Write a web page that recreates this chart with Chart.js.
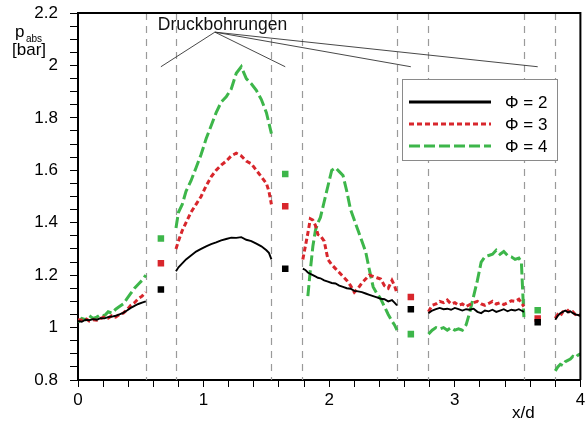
<!DOCTYPE html>
<html lang="de">
<head>
  <meta charset="UTF-8">
  <title>Druckverlauf p_abs über x/d</title>
  <script src="https://cdn.jsdelivr.net/npm/chart.js"></script>
  <style>
    html, body { margin: 0; padding: 0; background: #fff; }
    #wrap { width: 585px; height: 421px; }
  </style>
</head>
<body>
<div id="wrap"><canvas id="pressureChart" width="585" height="421"></canvas></div>

<script>
  // x/d positions, segments separated by the bore positions (y = null there)
  const xPos = [
    0, 0.03, 0.06, 0.09, 0.12, 0.15, 0.18, 0.21, 0.24, 0.27, 0.30, 0.33, 0.36, 0.39, 0.42, 0.45, 0.48, 0.51, 0.54,
    0.66,
    0.78, 0.80, 0.83, 0.86, 0.90, 0.94, 0.98, 1.02, 1.06, 1.10, 1.14, 1.18, 1.22, 1.26, 1.30, 1.34, 1.38, 1.42, 1.46, 1.50, 1.52, 1.54,
    1.65,
    1.79, 1.81, 1.83, 1.85, 1.87, 1.89, 1.91, 1.93, 1.96, 1.99, 2.02, 2.05, 2.08, 2.11, 2.14, 2.17, 2.20, 2.23, 2.26, 2.29, 2.32, 2.35, 2.38, 2.41, 2.44, 2.47, 2.50, 2.52, 2.54,
    2.65,
    2.79, 2.82, 2.85, 2.88, 2.91, 2.94, 2.97, 3.00, 3.03, 3.06, 3.09, 3.12, 3.15, 3.18, 3.21, 3.24, 3.27, 3.30, 3.33, 3.36, 3.39, 3.42, 3.45, 3.48, 3.51, 3.53, 3.55,
    3.66,
    3.80, 3.82, 3.84, 3.86, 3.88, 3.90, 3.92, 3.94, 3.96, 3.98, 4.00
  ];

  const pPhi2 = [
    1.025, 1.022, 1.030, 1.028, 1.032, 1.030, 1.036, 1.035, 1.040, 1.042, 1.045, 1.050, 1.056, 1.065, 1.075, 1.083, 1.090, 1.095, 1.100,
    null,
    1.215, 1.230, 1.245, 1.260, 1.275, 1.290, 1.300, 1.310, 1.318, 1.325, 1.333, 1.338, 1.343, 1.342, 1.345, 1.335, 1.330, 1.320, 1.310, 1.295, 1.285, 1.260,
    null,
    1.225, 1.220, 1.210, 1.205, 1.200, 1.195, 1.190, 1.188, 1.180, 1.175, 1.170, 1.168, 1.160, 1.155, 1.150, 1.148, 1.140, 1.138, 1.135, 1.130, 1.125, 1.120, 1.115, 1.110, 1.108, 1.100, 1.105, 1.095, 1.085,
    null,
    1.055, 1.065, 1.070, 1.075, 1.070, 1.072, 1.068, 1.075, 1.070, 1.065, 1.070, 1.068, 1.072, 1.060, 1.055, 1.065, 1.062, 1.068, 1.060, 1.065, 1.070, 1.062, 1.068, 1.065, 1.070, 1.065, 1.060,
    null,
    1.030, 1.045, 1.055, 1.060, 1.065, 1.058, 1.062, 1.055, 1.050, 1.048, 1.045
  ];

  const pPhi3 = [
    1.030, 1.028, 1.035, 1.025, 1.030, 1.028, 1.035, 1.040, 1.036, 1.045, 1.040, 1.050, 1.055, 1.068, 1.085, 1.095, 1.110, 1.120, 1.135,
    null,
    1.300, 1.330, 1.370, 1.400, 1.440, 1.470, 1.500, 1.540, 1.575, 1.600, 1.620, 1.635, 1.655, 1.665, 1.655, 1.635, 1.625, 1.600, 1.575, 1.550, 1.520, 1.470,
    null,
    1.260, 1.310, 1.360, 1.415, 1.410, 1.390, 1.355, 1.350, 1.330, 1.260, 1.240, 1.225, 1.210, 1.195, 1.180, 1.160, 1.135, 1.150, 1.170, 1.185, 1.200, 1.195, 1.190, 1.185, 1.160, 1.150, 1.180, 1.160, 1.130,
    null,
    1.060, 1.085, 1.090, 1.100, 1.095, 1.105, 1.090, 1.095, 1.085, 1.090, 1.080, 1.088, 1.095, 1.100, 1.090, 1.085, 1.092, 1.100, 1.090, 1.095, 1.088, 1.095, 1.102, 1.100, 1.108, 1.095, 1.080,
    null,
    1.035, 1.050, 1.045, 1.060, 1.058, 1.065, 1.055, 1.060, 1.050, 1.055, 1.045
  ];

  const pPhi4 = [
    1.020, 1.035, 1.030, 1.045, 1.035, 1.040, 1.050, 1.045, 1.060, 1.055, 1.070, 1.080, 1.090, 1.110, 1.130, 1.150, 1.165, 1.180, 1.200,
    null,
    1.380, 1.440, 1.470, 1.520, 1.560, 1.610, 1.660, 1.720, 1.770, 1.820, 1.860, 1.880, 1.910, 1.970, 1.995, 1.950, 1.930, 1.905, 1.870, 1.820, 1.780, 1.740,
    null,
    null, null, 1.120, 1.220, 1.310, 1.370, 1.400, 1.420, 1.480, 1.540, 1.600, 1.610, 1.595, 1.580, 1.520, 1.450, 1.410, 1.370, 1.330, 1.290, 1.220, 1.155, 1.130, 1.110, 1.080, 1.050, 1.025, 1.010, 0.990,
    null,
    0.975, 0.990, 1.000, 0.995, 1.000, 0.990, 1.000, 0.990, 0.995, 0.990, 1.010, 1.060, 1.120, 1.180, 1.250, 1.270, 1.275, 1.280, 1.295, 1.280, 1.290, 1.275, 1.270, 1.260, 1.265, 1.250, 1.040,
    null,
    0.835, 0.850, 0.860, 0.855, 0.870, 0.875, 0.880, 0.890, 0.885, 0.895, 0.900
  ];

  // single pressure taps (Druckbohrungen)
  const holeX = [0.66, 1.65, 2.65, 3.66];
  const holePhi2 = [1.145, 1.224, 1.070, 1.020];
  const holePhi3 = [1.245, 1.463, 1.117, 1.035];
  const holePhi4 = [1.340, 1.586, 0.975, 1.066];

  // edges of the bore regions
  const boreEdges = [0.54, 0.78, 1.54, 1.78, 2.54, 2.79, 3.55, 3.80];

  const seriesLabels = ['\u03A6 = 2', '\u03A6 = 3', '\u03A6 = 4'];
  const xTickLabels = [0, 1, 2, 3, 4];
  const yTickLabels = [0.8, 1, 1.2, 1.4, 1.6, 1.8, 2, 2.2];

  const BLACK = '#000000';
  const RED = '#d8262c';
  const GREEN = '#3db64a';
  const FONT = '"Liberation Sans", Arial, sans-serif';

  function toPoints(xs, ys) {
    return xs.map((x, i) => ({ x: x, y: ys[i] }));
  }

  function isMajor(v, list) {
    return list.some(t => Math.abs(t - v) < 1e-6);
  }

  // no extra room for half labels at the axis ends
  function noEdgePadding(s) {
    s.paddingLeft = 0;
    s.paddingRight = 0;
    s.paddingTop = 0;
    s.paddingBottom = 0;
  }

  const lineStyles = [
    { color: BLACK, width: 1.9, dash: [] },
    { color: RED, width: 3, dash: [5, 3] },
    { color: GREEN, width: 3, dash: [11, 4] }
  ];

  const lineData = [pPhi2, pPhi3, pPhi4];
  const holeData = [holePhi2, holePhi3, holePhi4];

  const datasets = [];
  lineData.forEach((ys, i) => {
    datasets.push({
      type: 'line',
      label: seriesLabels[i],
      data: toPoints(xPos, ys),
      borderColor: lineStyles[i].color,
      borderWidth: lineStyles[i].width,
      borderDash: lineStyles[i].dash,
      pointRadius: 0,
      tension: 0,
      spanGaps: false,
      fill: false
    });
  });
  holeData.forEach((ys, i) => {
    datasets.push({
      type: 'scatter',
      label: seriesLabels[i] + ' Bohrung',
      data: toPoints(holeX, ys),
      backgroundColor: lineStyles[i].color,
      borderWidth: 0,
      pointStyle: 'rect',
      pointRadius: 4.6,
      showLine: false
    });
  });

  // dashed vertical lines at the bore edges
  const boreLines = {
    id: 'boreLines',
    beforeDatasetsDraw(chart) {
      const { ctx, chartArea, scales } = chart;
      ctx.save();
      ctx.strokeStyle = '#9a9a9a';
      ctx.lineWidth = 1.2;
      ctx.setLineDash([7, 6]);
      boreEdges.forEach(e => {
        const px = Math.round(scales.x.getPixelForValue(e)) + 0.5;
        ctx.beginPath();
        ctx.moveTo(px, chartArea.top);
        ctx.lineTo(px, chartArea.bottom);
        ctx.stroke();
      });
      ctx.restore();
    }
  };

  // frame, annotation, legend and axis titles
  const decorations = {
    id: 'decorations',
    afterDraw(chart) {
      const { ctx, chartArea, scales } = chart;
      const xs = scales.x, ys = scales.y;
      ctx.save();

      // top and right frame
      ctx.strokeStyle = BLACK;
      ctx.lineWidth = 2;
      ctx.beginPath();
      ctx.moveTo(chartArea.left, chartArea.top);
      ctx.lineTo(chartArea.right, chartArea.top);
      ctx.lineTo(chartArea.right, chartArea.bottom);
      ctx.stroke();

      // Druckbohrungen label with pointer lines
      ctx.fillStyle = '#111';
      ctx.font = '17.5px ' + FONT;
      ctx.textAlign = 'center';
      ctx.textBaseline = 'alphabetic';
      ctx.fillText('Druckbohrungen', xs.getPixelForValue(1.15), ys.getPixelForValue(2.135));
      const ox = xs.getPixelForValue(1.09), oy = ys.getPixelForValue(2.127);
      ctx.strokeStyle = '#333';
      ctx.lineWidth = 0.9;
      holeX.forEach(h => {
        ctx.beginPath();
        ctx.moveTo(ox, oy);
        ctx.lineTo(xs.getPixelForValue(h), ys.getPixelForValue(1.995));
        ctx.stroke();
      });

      // legend box
      const bx = 402, by = 79, bw = 155, bh = 81;
      ctx.fillStyle = '#fff';
      ctx.fillRect(bx, by, bw, bh);
      ctx.strokeStyle = '#8a8a8a';
      ctx.lineWidth = 1;
      ctx.strokeRect(bx + 0.5, by + 0.5, bw, bh);
      const rows = [102, 124, 146];
      lineStyles.forEach((s, i) => {
        ctx.strokeStyle = s.color;
        ctx.lineWidth = 3;
        ctx.setLineDash(s.dash);
        ctx.beginPath();
        ctx.moveTo(409, rows[i]);
        ctx.lineTo(491, rows[i]);
        ctx.stroke();
        ctx.setLineDash([]);
        ctx.fillStyle = BLACK;
        ctx.font = '17px ' + FONT;
        ctx.textAlign = 'left';
        ctx.textBaseline = 'middle';
        ctx.fillText(seriesLabels[i], 505, rows[i] + 1);
      });

      // y axis title p_abs [bar]
      ctx.fillStyle = BLACK;
      ctx.textAlign = 'left';
      ctx.textBaseline = 'alphabetic';
      ctx.font = '17px ' + FONT;
      ctx.fillText('p', 15, 37);
      ctx.font = '10px ' + FONT;
      ctx.fillText('abs', 26, 42);
      ctx.font = '17px ' + FONT;
      ctx.fillText('[bar]', 12, 55);

      // x axis title
      ctx.fillText('x/d', 512, 418);

      ctx.restore();
    }
  };

  const pressureChart = new Chart(document.getElementById('pressureChart'), {
    data: { datasets: datasets },
    options: {
      responsive: false,
      animation: false,
      devicePixelRatio: 1,
      layout: { padding: { top: 13, right: 2, left: 0, bottom: 0 } },
      plugins: {
        legend: { display: false },
        tooltip: { enabled: false }
      },
      scales: {
        x: {
          type: 'linear',
          min: 0,
          max: 4,
          ticks: {
            stepSize: 0.2,
            autoSkip: false,
            maxRotation: 0,
            padding: 3,
            color: BLACK,
            font: { family: FONT, size: 17 },
            callback: v => isMajor(v, xTickLabels) ? String(Math.round(v)) : ''
          },
          grid: { drawOnChartArea: false, drawTicks: true, tickLength: 7, color: BLACK, lineWidth: 1 },
          border: { display: true, color: BLACK, width: 2 },
          afterFit: s => { s.height = 41; noEdgePadding(s); }
        },
        y: {
          type: 'linear',
          min: 0.8,
          max: 2.2,
          ticks: {
            stepSize: 0.05,
            autoSkip: false,
            padding: 12,
            color: BLACK,
            font: { family: FONT, size: 17 },
            callback: v => isMajor(v, yTickLabels) ? String(Math.round(v * 10) / 10) : ''
          },
          grid: { drawOnChartArea: false, drawTicks: true, tickLength: 8, color: BLACK, lineWidth: 1 },
          border: { display: true, color: BLACK, width: 2 },
          afterFit: s => { s.width = 78; noEdgePadding(s); }
        }
      }
    },
    plugins: [boreLines, decorations]
  });
</script>
</body>
</html>
